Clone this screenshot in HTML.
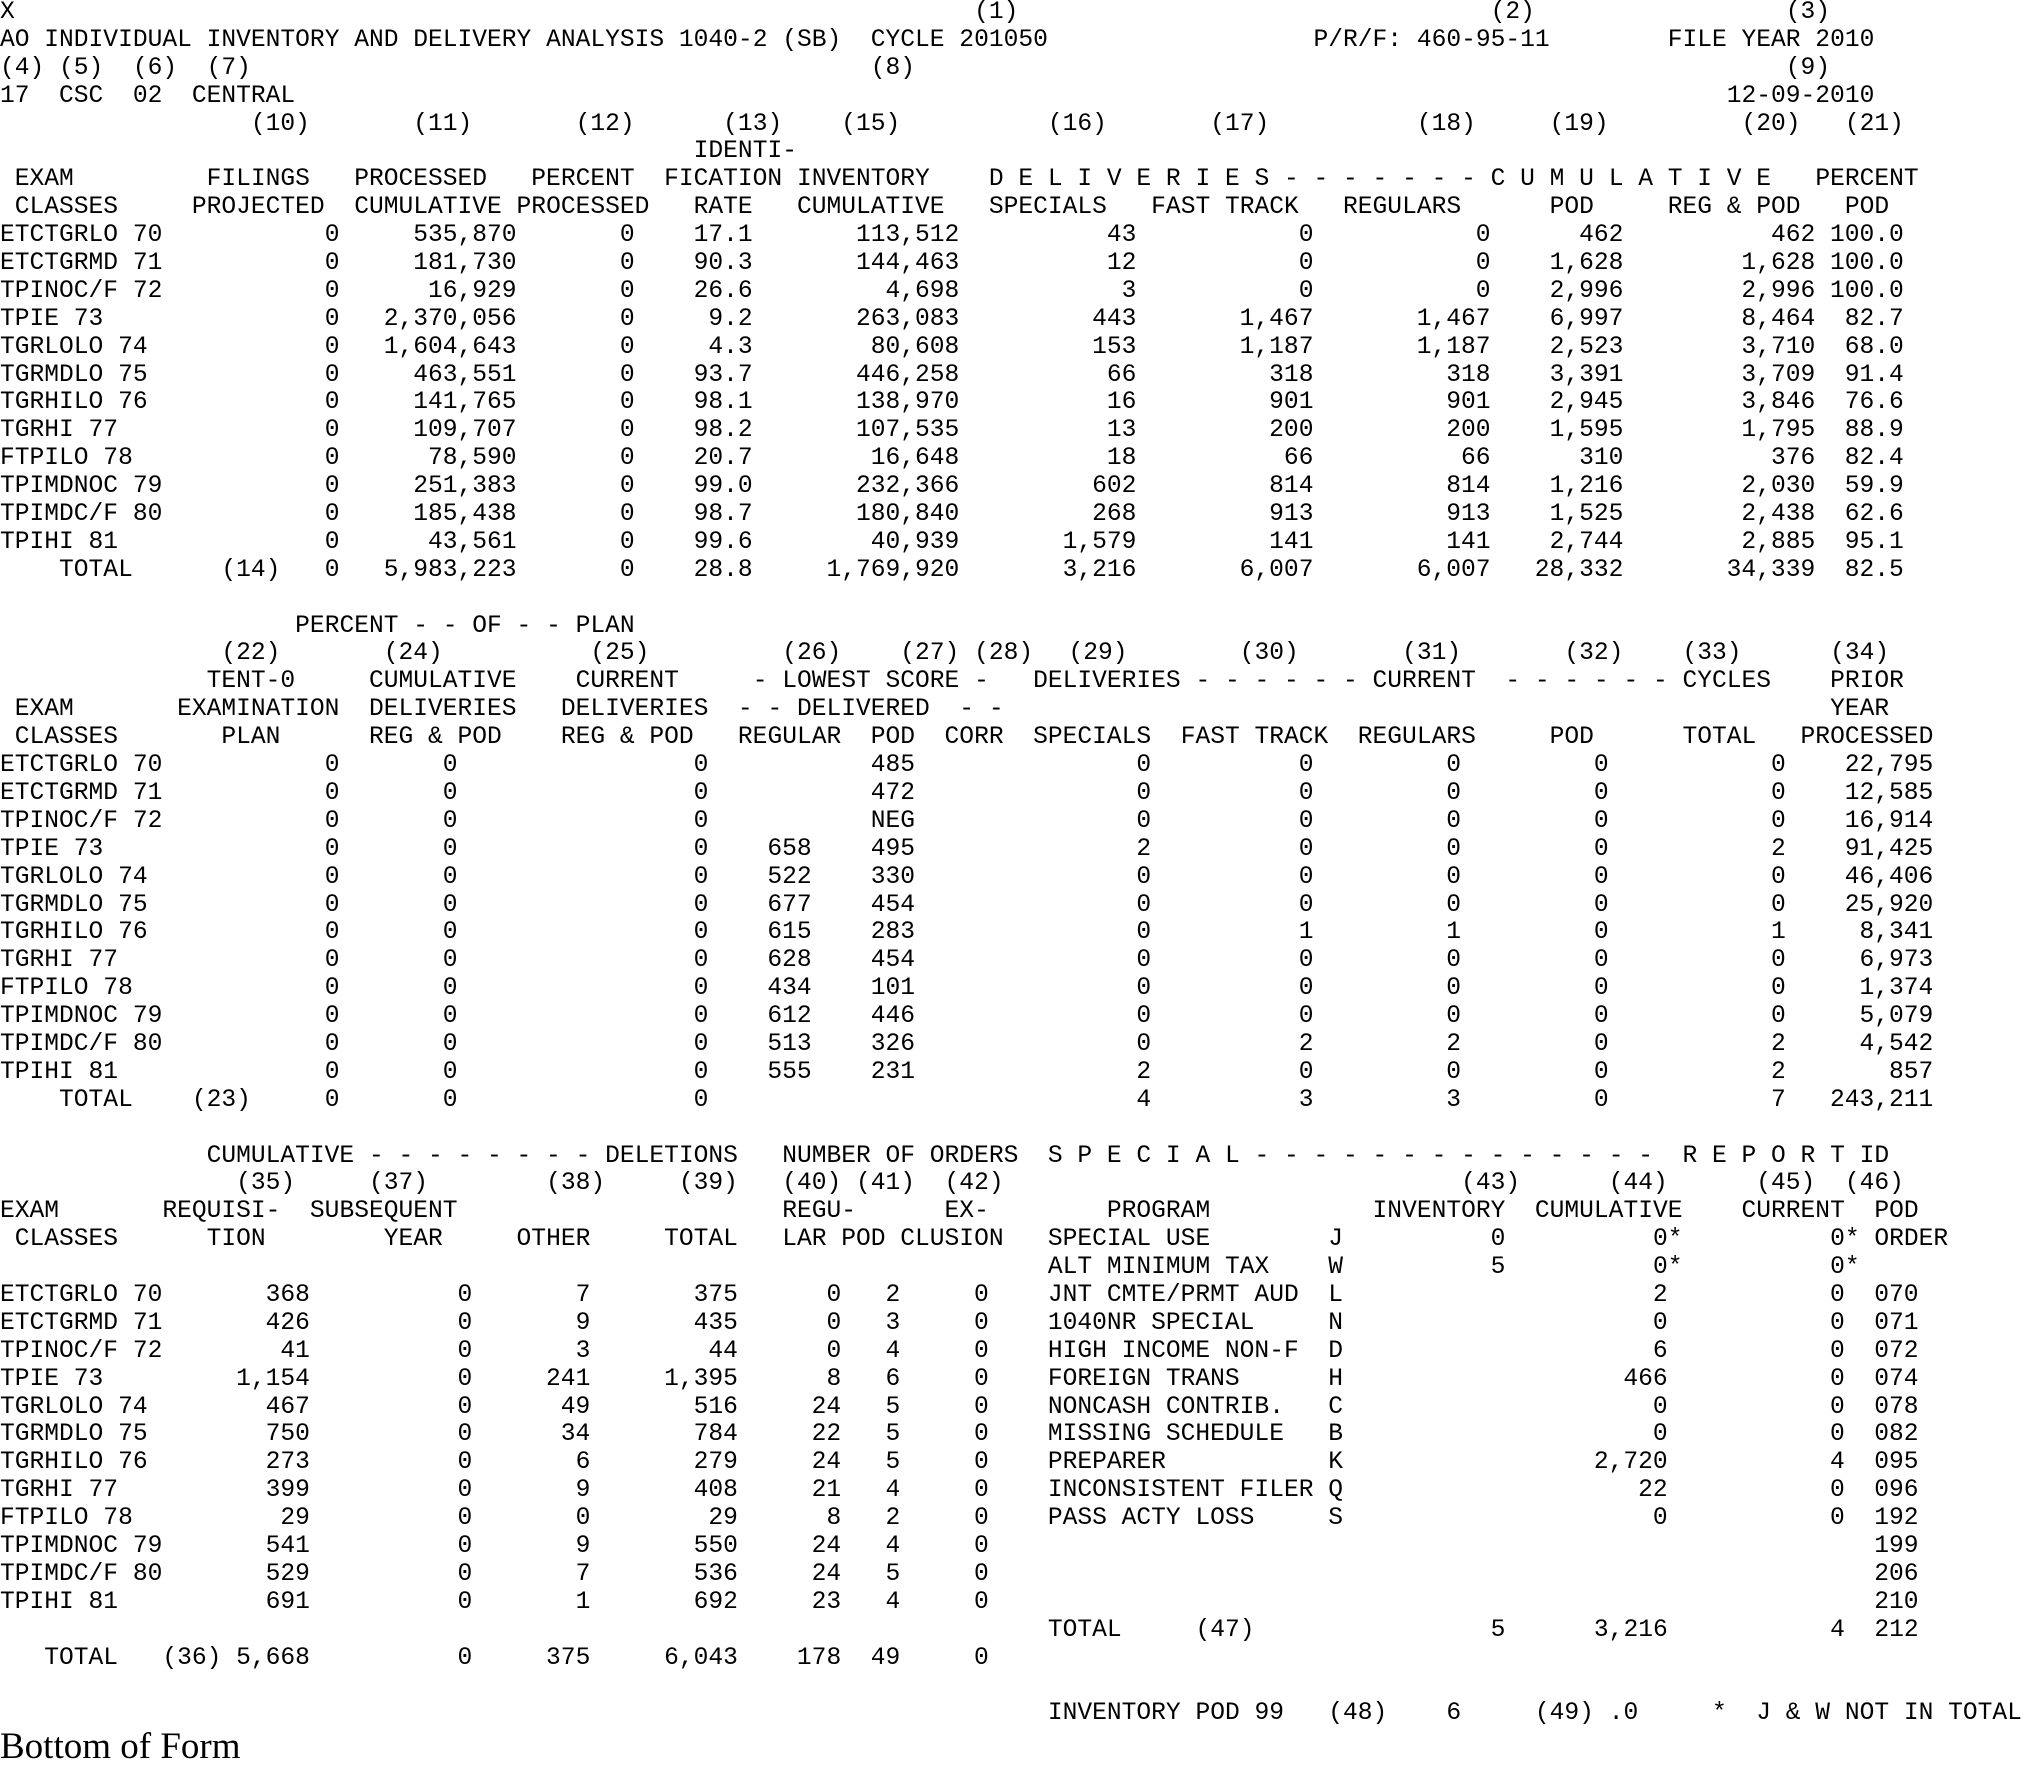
<!DOCTYPE html>
<html><head><meta charset="utf-8"><style>
body{margin:0;width:2025px;height:1759px;background:#fff;overflow:hidden;position:relative;font-family:"Liberation Mono",monospace;font-size:24.6px;color:#000}
.p{position:absolute;left:0;top:-1px;width:2025px}
.l{height:27.9px;line-height:27.9px;white-space:pre;position:relative;display:flex}
.l i{position:absolute;top:0;font-style:normal}
u{flex:none;text-decoration:none;text-align:right;display:block}
.s1 u:nth-child(1){width:22ch;text-align:left}.s1 u:nth-child(2){width:1ch}.s1 u:nth-child(3){width:12ch}.s1 u:nth-child(4){width:8ch}.s1 u:nth-child(5){width:8ch}.s1 u:nth-child(6){width:14ch}.s1 u:nth-child(7){width:12ch}.s1 u:nth-child(8){width:12ch}.s1 u:nth-child(9){width:12ch}.s1 u:nth-child(10){width:9ch}.s1 u:nth-child(11){width:13ch}.s1 u:nth-child(12){width:6ch}
.s2 u:nth-child(1){width:22ch;text-align:left}.s2 u:nth-child(2){width:1ch}.s2 u:nth-child(3){width:8ch}.s2 u:nth-child(4){width:17ch}.s2 u:nth-child(5){width:7ch}.s2 u:nth-child(6){width:7ch}.s2 u:nth-child(7){width:16ch}.s2 u:nth-child(8){width:11ch}.s2 u:nth-child(9){width:10ch}.s2 u:nth-child(10){width:10ch}.s2 u:nth-child(11){width:12ch}.s2 u:nth-child(12){width:10ch}
.s3 u:nth-child(1){width:11ch;text-align:left}.s3 u:nth-child(2){width:10ch}.s3 u:nth-child(3){width:11ch}.s3 u:nth-child(4){width:8ch}.s3 u:nth-child(5){width:10ch}.s3 u:nth-child(6){width:7ch}.s3 u:nth-child(7){width:4ch}.s3 u:nth-child(8){width:6ch}.s3 u:nth-child(9){width:4ch}.s3 u:nth-child(10){width:19ch;text-align:left}.s3 u:nth-child(11){width:1ch;text-align:left}.s3 u:nth-child(12){width:11ch}.s3 u:nth-child(13){width:11ch}.s3 u:nth-child(14){width:1ch}.s3 u:nth-child(15){width:11ch}.s3 u:nth-child(16){width:1ch}.s3 u:nth-child(17){width:1ch}.s3 u:nth-child(18){text-align:left}
.bf{position:absolute;left:0;top:1728px;font-family:"Liberation Serif",serif;font-size:37px;line-height:37px;white-space:pre}
</style></head><body><div class="p">
<div class="l"><i style="left:0">X</i><i style="left:66ch">(1)</i><i style="left:101ch">(2)</i><i style="left:121ch">(3)</i></div>
<div class="l"><i style="left:0">AO INDIVIDUAL INVENTORY AND DELIVERY ANALYSIS 1040-2 (SB)  CYCLE 201050</i><i style="left:89ch">P/R/F: 460-95-11</i><i style="left:113ch">FILE YEAR 2010</i></div>
<div class="l"><i style="left:0">(4)</i><i style="left:4ch">(5)</i><i style="left:9ch">(6)</i><i style="left:14ch">(7)</i><i style="left:59ch">(8)</i><i style="left:121ch">(9)</i></div>
<div class="l"><i style="left:0">17</i><i style="left:4ch">CSC</i><i style="left:9ch">02</i><i style="left:13ch">CENTRAL</i><i style="left:117ch">12-09-2010</i></div>
<div class="l"><i style="left:17ch">(10)</i><i style="left:28ch">(11)</i><i style="left:39ch">(12)</i><i style="left:49ch">(13)</i><i style="left:57ch">(15)</i><i style="left:71ch">(16)</i><i style="left:82ch">(17)</i><i style="left:96ch">(18)</i><i style="left:105ch">(19)</i><i style="left:118ch">(20)</i><i style="left:125ch">(21)</i></div>
<div class="l"><i style="left:47ch">IDENTI-</i></div>
<div class="l"><i style="left:1ch">EXAM</i><i style="left:14ch">FILINGS</i><i style="left:24ch">PROCESSED</i><i style="left:36ch">PERCENT</i><i style="left:45ch">FICATION</i><i style="left:54ch">INVENTORY</i><i style="left:67ch">D E L I V E R I E S - - - - - - - C U M U L A T I V E</i><i style="left:123ch">PERCENT</i></div>
<div class="l"><i style="left:1ch">CLASSES</i><i style="left:13ch">PROJECTED</i><i style="left:24ch">CUMULATIVE</i><i style="left:35ch">PROCESSED</i><i style="left:47ch">RATE</i><i style="left:54ch">CUMULATIVE</i><i style="left:67ch">SPECIALS</i><i style="left:78ch">FAST TRACK</i><i style="left:91ch">REGULARS</i><i style="left:105ch">POD</i><i style="left:113ch">REG &amp; POD</i><i style="left:125ch">POD</i></div>
<div class="l s1"><u>ETCTGRLO 70</u><u>0</u><u>535,870</u><u>0</u><u>17.1</u><u>113,512</u><u>43</u><u>0</u><u>0</u><u>462</u><u>462</u><u>100.0</u></div>
<div class="l s1"><u>ETCTGRMD 71</u><u>0</u><u>181,730</u><u>0</u><u>90.3</u><u>144,463</u><u>12</u><u>0</u><u>0</u><u>1,628</u><u>1,628</u><u>100.0</u></div>
<div class="l s1"><u>TPINOC/F 72</u><u>0</u><u>16,929</u><u>0</u><u>26.6</u><u>4,698</u><u>3</u><u>0</u><u>0</u><u>2,996</u><u>2,996</u><u>100.0</u></div>
<div class="l s1"><u>TPIE 73</u><u>0</u><u>2,370,056</u><u>0</u><u>9.2</u><u>263,083</u><u>443</u><u>1,467</u><u>1,467</u><u>6,997</u><u>8,464</u><u>82.7</u></div>
<div class="l s1"><u>TGRLOLO 74</u><u>0</u><u>1,604,643</u><u>0</u><u>4.3</u><u>80,608</u><u>153</u><u>1,187</u><u>1,187</u><u>2,523</u><u>3,710</u><u>68.0</u></div>
<div class="l s1"><u>TGRMDLO 75</u><u>0</u><u>463,551</u><u>0</u><u>93.7</u><u>446,258</u><u>66</u><u>318</u><u>318</u><u>3,391</u><u>3,709</u><u>91.4</u></div>
<div class="l s1"><u>TGRHILO 76</u><u>0</u><u>141,765</u><u>0</u><u>98.1</u><u>138,970</u><u>16</u><u>901</u><u>901</u><u>2,945</u><u>3,846</u><u>76.6</u></div>
<div class="l s1"><u>TGRHI 77</u><u>0</u><u>109,707</u><u>0</u><u>98.2</u><u>107,535</u><u>13</u><u>200</u><u>200</u><u>1,595</u><u>1,795</u><u>88.9</u></div>
<div class="l s1"><u>FTPILO 78</u><u>0</u><u>78,590</u><u>0</u><u>20.7</u><u>16,648</u><u>18</u><u>66</u><u>66</u><u>310</u><u>376</u><u>82.4</u></div>
<div class="l s1"><u>TPIMDNOC 79</u><u>0</u><u>251,383</u><u>0</u><u>99.0</u><u>232,366</u><u>602</u><u>814</u><u>814</u><u>1,216</u><u>2,030</u><u>59.9</u></div>
<div class="l s1"><u>TPIMDC/F 80</u><u>0</u><u>185,438</u><u>0</u><u>98.7</u><u>180,840</u><u>268</u><u>913</u><u>913</u><u>1,525</u><u>2,438</u><u>62.6</u></div>
<div class="l s1"><u>TPIHI 81</u><u>0</u><u>43,561</u><u>0</u><u>99.6</u><u>40,939</u><u>1,579</u><u>141</u><u>141</u><u>2,744</u><u>2,885</u><u>95.1</u></div>
<div class="l s1"><u>    TOTAL      (14)</u><u>0</u><u>5,983,223</u><u>0</u><u>28.8</u><u>1,769,920</u><u>3,216</u><u>6,007</u><u>6,007</u><u>28,332</u><u>34,339</u><u>82.5</u></div>
<div class="l"> </div>
<div class="l"><i style="left:20ch">PERCENT - - OF - - PLAN</i></div>
<div class="l"><i style="left:15ch">(22)</i><i style="left:26ch">(24)</i><i style="left:40ch">(25)</i><i style="left:53ch">(26)</i><i style="left:61ch">(27)</i><i style="left:66ch">(28)</i><i style="left:72.4ch">(29)</i><i style="left:84ch">(30)</i><i style="left:95ch">(31)</i><i style="left:106ch">(32)</i><i style="left:114ch">(33)</i><i style="left:124ch">(34)</i></div>
<div class="l"><i style="left:14ch">TENT-0</i><i style="left:25ch">CUMULATIVE</i><i style="left:39ch">CURRENT</i><i style="left:51ch">- LOWEST SCORE -</i><i style="left:70ch">DELIVERIES - - - - - - CURRENT  - - - - - - CYCLES</i><i style="left:124ch">PRIOR</i></div>
<div class="l"><i style="left:1ch">EXAM</i><i style="left:12ch">EXAMINATION</i><i style="left:25ch">DELIVERIES</i><i style="left:38ch">DELIVERIES</i><i style="left:50ch">- - DELIVERED  - -</i><i style="left:124ch">YEAR</i></div>
<div class="l"><i style="left:1ch">CLASSES</i><i style="left:15ch">PLAN</i><i style="left:25ch">REG &amp; POD</i><i style="left:38ch">REG &amp; POD</i><i style="left:50ch">REGULAR</i><i style="left:59ch">POD</i><i style="left:64ch">CORR</i><i style="left:70ch">SPECIALS</i><i style="left:80ch">FAST TRACK</i><i style="left:92ch">REGULARS</i><i style="left:105ch">POD</i><i style="left:114ch">TOTAL</i><i style="left:122ch">PROCESSED</i></div>
<div class="l s2"><u>ETCTGRLO 70</u><u>0</u><u>0</u><u>0</u><u></u><u>485</u><u>0</u><u>0</u><u>0</u><u>0</u><u>0</u><u>22,795</u></div>
<div class="l s2"><u>ETCTGRMD 71</u><u>0</u><u>0</u><u>0</u><u></u><u>472</u><u>0</u><u>0</u><u>0</u><u>0</u><u>0</u><u>12,585</u></div>
<div class="l s2"><u>TPINOC/F 72</u><u>0</u><u>0</u><u>0</u><u></u><u>NEG</u><u>0</u><u>0</u><u>0</u><u>0</u><u>0</u><u>16,914</u></div>
<div class="l s2"><u>TPIE 73</u><u>0</u><u>0</u><u>0</u><u>658</u><u>495</u><u>2</u><u>0</u><u>0</u><u>0</u><u>2</u><u>91,425</u></div>
<div class="l s2"><u>TGRLOLO 74</u><u>0</u><u>0</u><u>0</u><u>522</u><u>330</u><u>0</u><u>0</u><u>0</u><u>0</u><u>0</u><u>46,406</u></div>
<div class="l s2"><u>TGRMDLO 75</u><u>0</u><u>0</u><u>0</u><u>677</u><u>454</u><u>0</u><u>0</u><u>0</u><u>0</u><u>0</u><u>25,920</u></div>
<div class="l s2"><u>TGRHILO 76</u><u>0</u><u>0</u><u>0</u><u>615</u><u>283</u><u>0</u><u>1</u><u>1</u><u>0</u><u>1</u><u>8,341</u></div>
<div class="l s2"><u>TGRHI 77</u><u>0</u><u>0</u><u>0</u><u>628</u><u>454</u><u>0</u><u>0</u><u>0</u><u>0</u><u>0</u><u>6,973</u></div>
<div class="l s2"><u>FTPILO 78</u><u>0</u><u>0</u><u>0</u><u>434</u><u>101</u><u>0</u><u>0</u><u>0</u><u>0</u><u>0</u><u>1,374</u></div>
<div class="l s2"><u>TPIMDNOC 79</u><u>0</u><u>0</u><u>0</u><u>612</u><u>446</u><u>0</u><u>0</u><u>0</u><u>0</u><u>0</u><u>5,079</u></div>
<div class="l s2"><u>TPIMDC/F 80</u><u>0</u><u>0</u><u>0</u><u>513</u><u>326</u><u>0</u><u>2</u><u>2</u><u>0</u><u>2</u><u>4,542</u></div>
<div class="l s2"><u>TPIHI 81</u><u>0</u><u>0</u><u>0</u><u>555</u><u>231</u><u>2</u><u>0</u><u>0</u><u>0</u><u>2</u><u>857</u></div>
<div class="l s2"><u>    TOTAL    (23)</u><u>0</u><u>0</u><u>0</u><u></u><u></u><u>4</u><u>3</u><u>3</u><u>0</u><u>7</u><u>243,211</u></div>
<div class="l"> </div>
<div class="l"><i style="left:14ch">CUMULATIVE - - - - - - - - DELETIONS</i><i style="left:53ch">NUMBER OF ORDERS</i><i style="left:71ch">S P E C I A L - - - - - - - - - - - - - -</i><i style="left:114ch">R E P O R T</i><i style="left:126ch">ID</i></div>
<div class="l"><i style="left:16ch">(35)</i><i style="left:25ch">(37)</i><i style="left:37ch">(38)</i><i style="left:46ch">(39)</i><i style="left:53ch">(40)</i><i style="left:58ch">(41)</i><i style="left:64ch">(42)</i><i style="left:99ch">(43)</i><i style="left:109ch">(44)</i><i style="left:119ch">(45)</i><i style="left:125ch">(46)</i></div>
<div class="l"><i style="left:0">EXAM</i><i style="left:11ch">REQUISI-</i><i style="left:21ch">SUBSEQUENT</i><i style="left:53ch">REGU-</i><i style="left:64ch">EX-</i><i style="left:75ch">PROGRAM</i><i style="left:93ch">INVENTORY</i><i style="left:104ch">CUMULATIVE</i><i style="left:118ch">CURRENT</i><i style="left:127ch">POD</i></div>
<div class="l"><i style="left:1ch">CLASSES</i><i style="left:14ch">TION</i><i style="left:26ch">YEAR</i><i style="left:35ch">OTHER</i><i style="left:45ch">TOTAL</i><i style="left:53ch">LAR POD CLUSION</i><i style="left:71ch">SPECIAL USE</i><i style="left:90ch">J</i><i style="left:101ch">0</i><i style="left:112ch">0*</i><i style="left:124ch">0*</i><i style="left:127ch">ORDER</i></div>
<div class="l"><i style="left:71ch">ALT MINIMUM TAX</i><i style="left:90ch">W</i><i style="left:101ch">5</i><i style="left:112ch">0*</i><i style="left:124ch">0*</i></div>
<div class="l s3"><u>ETCTGRLO 70</u><u>368</u><u>0</u><u>7</u><u>375</u><u>0</u><u>2</u><u>0</u><u></u><u>JNT CMTE/PRMT AUD</u><u>L</u><u></u><u>2</u><u></u><u>0</u><u></u><u></u><u>070</u></div>
<div class="l s3"><u>ETCTGRMD 71</u><u>426</u><u>0</u><u>9</u><u>435</u><u>0</u><u>3</u><u>0</u><u></u><u>1040NR SPECIAL</u><u>N</u><u></u><u>0</u><u></u><u>0</u><u></u><u></u><u>071</u></div>
<div class="l s3"><u>TPINOC/F 72</u><u>41</u><u>0</u><u>3</u><u>44</u><u>0</u><u>4</u><u>0</u><u></u><u>HIGH INCOME NON-F</u><u>D</u><u></u><u>6</u><u></u><u>0</u><u></u><u></u><u>072</u></div>
<div class="l s3"><u>TPIE 73</u><u>1,154</u><u>0</u><u>241</u><u>1,395</u><u>8</u><u>6</u><u>0</u><u></u><u>FOREIGN TRANS</u><u>H</u><u></u><u>466</u><u></u><u>0</u><u></u><u></u><u>074</u></div>
<div class="l s3"><u>TGRLOLO 74</u><u>467</u><u>0</u><u>49</u><u>516</u><u>24</u><u>5</u><u>0</u><u></u><u>NONCASH CONTRIB.</u><u>C</u><u></u><u>0</u><u></u><u>0</u><u></u><u></u><u>078</u></div>
<div class="l s3"><u>TGRMDLO 75</u><u>750</u><u>0</u><u>34</u><u>784</u><u>22</u><u>5</u><u>0</u><u></u><u>MISSING SCHEDULE</u><u>B</u><u></u><u>0</u><u></u><u>0</u><u></u><u></u><u>082</u></div>
<div class="l s3"><u>TGRHILO 76</u><u>273</u><u>0</u><u>6</u><u>279</u><u>24</u><u>5</u><u>0</u><u></u><u>PREPARER</u><u>K</u><u></u><u>2,720</u><u></u><u>4</u><u></u><u></u><u>095</u></div>
<div class="l s3"><u>TGRHI 77</u><u>399</u><u>0</u><u>9</u><u>408</u><u>21</u><u>4</u><u>0</u><u></u><u>INCONSISTENT FILER</u><u>Q</u><u></u><u>22</u><u></u><u>0</u><u></u><u></u><u>096</u></div>
<div class="l s3"><u>FTPILO 78</u><u>29</u><u>0</u><u>0</u><u>29</u><u>8</u><u>2</u><u>0</u><u></u><u>PASS ACTY LOSS</u><u>S</u><u></u><u>0</u><u></u><u>0</u><u></u><u></u><u>192</u></div>
<div class="l s3"><u>TPIMDNOC 79</u><u>541</u><u>0</u><u>9</u><u>550</u><u>24</u><u>4</u><u>0</u><u></u><u></u><u></u><u></u><u></u><u></u><u></u><u></u><u></u><u>199</u></div>
<div class="l s3"><u>TPIMDC/F 80</u><u>529</u><u>0</u><u>7</u><u>536</u><u>24</u><u>5</u><u>0</u><u></u><u></u><u></u><u></u><u></u><u></u><u></u><u></u><u></u><u>206</u></div>
<div class="l s3"><u>TPIHI 81</u><u>691</u><u>0</u><u>1</u><u>692</u><u>23</u><u>4</u><u>0</u><u></u><u></u><u></u><u></u><u></u><u></u><u></u><u></u><u></u><u>210</u></div>
<div class="l"><i style="left:71ch">TOTAL</i><i style="left:81ch">(47)</i><i style="left:101ch">5</i><i style="left:108ch">3,216</i><i style="left:124ch">4</i><i style="left:127ch">212</i></div>
<div class="l s3"><u>   TOTAL</u><u>(36) 5,668</u><u>0</u><u>375</u><u>6,043</u><u>178</u><u>49</u><u>0</u></div>
<div class="l"> </div>
<div class="l"><i style="left:71ch">INVENTORY POD 99</i><i style="left:90ch">(48)</i><i style="left:98ch">6</i><i style="left:104ch">(49)</i><i style="left:109ch">.0</i><i style="left:116ch">*</i><i style="left:119ch">J &amp; W NOT IN TOTAL</i></div>
</div>
<div class="bf">Bottom of Form</div>
</body></html>
